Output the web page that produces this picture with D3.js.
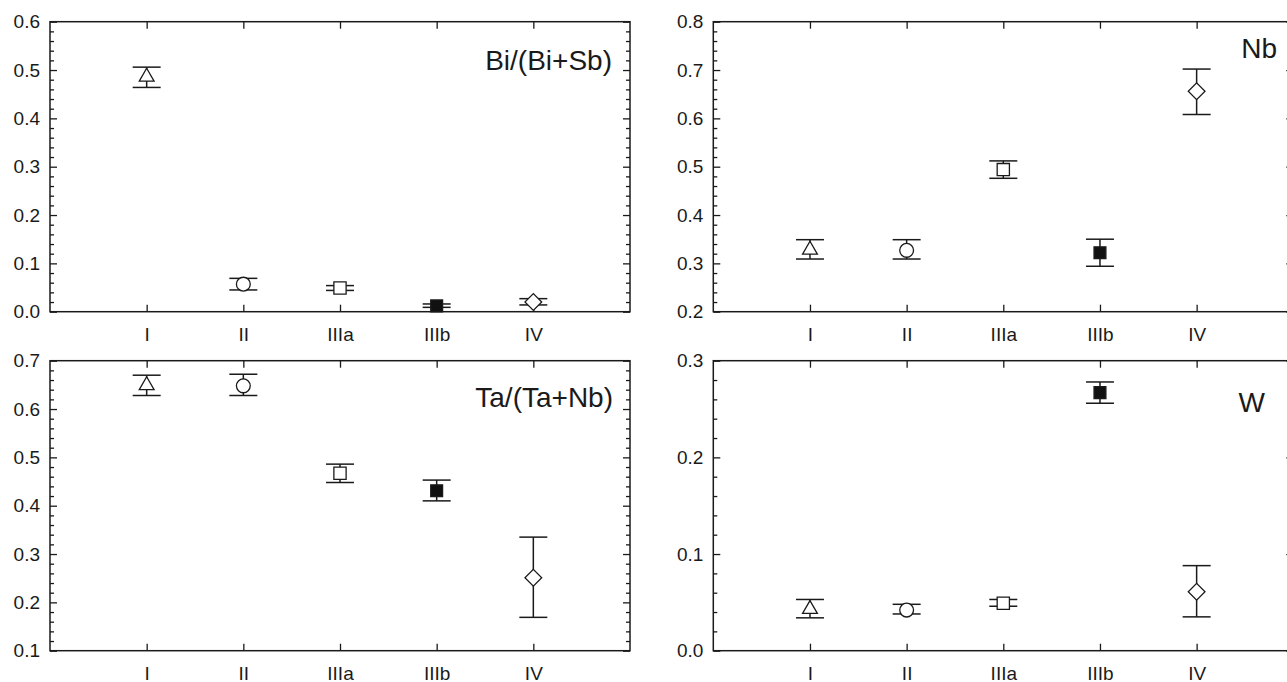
<!DOCTYPE html>
<html>
<head>
<meta charset="utf-8">
<script src="https://cdn.jsdelivr.net/npm/d3@7"></script>
<style>
  body { margin: 0; background: #fff; }
  svg { display: block; }
  text { font-family: "Liberation Sans", Arial, sans-serif; fill: #1a1a1a; }
</style>
</head>
<body>
<svg id="chart" width="1287" height="682"></svg>
<script>
// groups on the x axis, same for every panel
var groups = ["I", "II", "IIIa", "IIIb", "IV"];
var shapes = ["triangle", "circle", "square", "filled", "diamond"];

// Bi/(Bi+Sb)
var biMean = [0.486, 0.057, 0.049, 0.012, 0.020];
var biLow  = [0.464, 0.045, 0.044, 0.009, 0.014];
var biHigh = [0.506, 0.069, 0.054, 0.016, 0.027];

// Nb
var nbMean = [0.328, 0.327, 0.494, 0.322, 0.656];
var nbLow  = [0.309, 0.309, 0.476, 0.294, 0.608];
var nbHigh = [0.349, 0.349, 0.512, 0.350, 0.702];

// Ta/(Ta+Nb)
var taMean = [0.649, 0.648, 0.467, 0.431, 0.251];
var taLow  = [0.628, 0.628, 0.448, 0.410, 0.169];
var taHigh = [0.670, 0.672, 0.486, 0.453, 0.335];

// W
var wMean = [0.043, 0.042, 0.049, 0.267, 0.061];
var wLow  = [0.034, 0.038, 0.046, 0.256, 0.035];
var wHigh = [0.053, 0.048, 0.053, 0.278, 0.088];

// y axis ticks
var biTicks = [0, 0.1, 0.2, 0.3, 0.4, 0.5, 0.6];
var nbTicks = [0.2, 0.3, 0.4, 0.5, 0.6, 0.7, 0.8];
var taTicks = [0.1, 0.2, 0.3, 0.4, 0.5, 0.6, 0.7];
var wTicks  = [0.0, 0.1, 0.2, 0.3];

var panels = [
  {title: "Bi/(Bi+Sb)", mean: biMean, low: biLow, high: biHigh, ticks: biTicks, fmt: ".1f", minor: 0.02,
   left: 50, top: 21.7, tx: 612, ty: 70},
  {title: "Nb", mean: nbMean, low: nbLow, high: nbHigh, ticks: nbTicks, fmt: ".1f", minor: 0.02,
   left: 713.3, top: 21.7, tx: 1277, ty: 58},
  {title: "Ta/(Ta+Nb)", mean: taMean, low: taLow, high: taHigh, ticks: taTicks, fmt: ".1f", minor: 0.02,
   left: 50, top: 360.7, tx: 613, ty: 407},
  {title: "W", mean: wMean, low: wLow, high: wHigh, ticks: wTicks, fmt: ".1f", minor: 0.02,
   left: 713.3, top: 360.7, tx: 1265, ty: 412}
];

var width = 580, height = 290;
var ink = "#1a1a1a";

var svg = d3.select("#chart");

var x = d3.scaleLinear().domain([0, groups.length + 1]).range([0, width]);

panels.forEach(function(p) {
  var y = d3.scaleLinear()
      .domain([p.ticks[0], p.ticks[p.ticks.length - 1]])
      .range([height, 0]);

  var minorTicks = d3.range(p.ticks[0], p.ticks[p.ticks.length - 1] + 1e-9, p.minor)
      .filter(function(v) { return !p.ticks.some(function(t) { return Math.abs(t - v) < 1e-6; }); });

  var g = svg.append("g")
      .attr("transform", "translate(" + p.left + "," + p.top + ")");

  // left axis, ticks pointing inward
  var left = g.append("g")
      .call(d3.axisLeft(y).tickValues(p.ticks).tickFormat(d3.format(p.fmt))
        .tickSize(-7).tickPadding(10));
  g.append("g")
      .call(d3.axisLeft(y).tickValues(minorTicks).tickFormat("").tickSize(-4));

  // right axis
  g.append("g")
      .attr("transform", "translate(" + width + ",0)")
      .call(d3.axisRight(y).tickValues(p.ticks).tickFormat("").tickSize(-7));
  g.append("g")
      .attr("transform", "translate(" + width + ",0)")
      .call(d3.axisRight(y).tickValues(minorTicks).tickFormat("").tickSize(-4));

  // top and bottom axes at the groups
  g.append("g")
      .call(d3.axisTop(x).tickValues(d3.range(1, groups.length + 1)).tickFormat("").tickSize(-7));
  g.append("g")
      .attr("transform", "translate(0," + height + ")")
      .call(d3.axisBottom(x).tickValues(d3.range(1, groups.length + 1))
        .tickFormat(function(d) { return groups[d - 1]; })
        .tickSize(-7).tickPadding(16));

  g.selectAll(".domain").remove();
  g.selectAll(".tick line").attr("stroke", ink).attr("stroke-width", 1.3);
  g.selectAll(".tick text")
      .style("font-family", '"Liberation Sans", Arial, sans-serif')
      .style("font-size", "19px")
      .attr("fill", ink);

  // frame
  g.append("rect")
      .attr("width", width).attr("height", height)
      .attr("fill", "none").attr("stroke", ink).attr("stroke-width", 1.5);

  // error bars
  var bars = g.selectAll(".err").data(groups).enter().append("g").attr("class", "err");
  bars.append("line")
      .attr("x1", function(d, i) { return x(i + 1); })
      .attr("x2", function(d, i) { return x(i + 1); })
      .attr("y1", function(d, i) { return y(p.low[i]); })
      .attr("y2", function(d, i) { return y(p.high[i]); })
      .attr("stroke", ink).attr("stroke-width", 1.5);
  [p.low, p.high].forEach(function(arr) {
    bars.append("line")
        .attr("x1", function(d, i) { return x(i + 1) - 14; })
        .attr("x2", function(d, i) { return x(i + 1) + 14; })
        .attr("y1", function(d, i) { return y(arr[i]); })
        .attr("y2", function(d, i) { return y(arr[i]); })
        .attr("stroke", ink).attr("stroke-width", 1.5);
  });

  // markers
  g.selectAll(".mark").data(groups).enter().append("path")
      .attr("class", "mark")
      .attr("transform", function(d, i) {
        var t = "translate(" + x(i + 1) + "," + y(p.mean[i]) + ")";
        return shapes[i] === "diamond" ? t + " rotate(45)" : t;
      })
      .attr("d", function(d, i) {
        var s = shapes[i];
        if (s === "triangle") return d3.symbol(d3.symbolTriangle, 95)();
        if (s === "circle") return d3.symbol(d3.symbolCircle, 150)();
        if (s === "square") return d3.symbol(d3.symbolSquare, 150)();
        if (s === "filled") return d3.symbol(d3.symbolSquare, 140)();
        return d3.symbol(d3.symbolSquare, 140)();
      })
      .attr("fill", function(d, i) { return shapes[i] === "filled" ? "#111" : "#fff"; })
      .attr("stroke", ink).attr("stroke-width", 1.3);

  // panel title
  g.append("text")
      .attr("x", p.tx - p.left).attr("y", p.ty - p.top)
      .attr("text-anchor", "end")
      .style("font-size", "28px")
      .text(p.title);
});
</script>
</body>
</html>
